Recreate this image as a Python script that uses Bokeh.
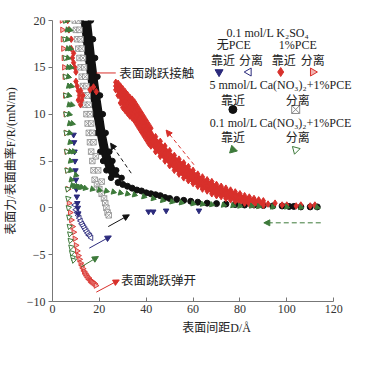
import math
from bokeh.plotting import figure
from bokeh.models import Range1d, Label, Arrow, NormalHead, FixedTicker
from bokeh.embed import file_html
from bokeh.resources import INLINE

# ---------------- data ----------------
# 5 mmol/L Ca(NO3)2 + 1%PCE, approach (black circles): dense band near the wall ...
blk_band_F = [20, 18, 16, 14, 12, 10, 8, 6, 5, 4, 3.2]
blk_band_left = [12.0, 12.9, 13.8, 14.8, 16.0, 17.4, 18.8, 20.4, 21.6, 23.0, 25.0]
blk_band_right = [16.4, 17.3, 18.2, 19.2, 20.3, 21.5, 22.7, 24.3, 25.6, 27.2, 29.5]
# ... and the single-row tail
blk_tail_D = [28, 30, 32, 34, 36, 38, 40, 42, 44, 46, 48, 50, 53, 56, 59, 62, 66, 70, 74, 78, 82,
              86, 90, 94, 98, 101, 103, 106, 110, 113]
blk_tail_F = [2.7, 2.5, 2.3, 2.1, 1.9, 1.8, 1.6, 1.5, 1.4, 1.3, 1.1, 1.0, 0.9, 0.8, 0.7, 0.6, 0.5,
              0.45, 0.4, 0.35, 0.3, 0.3, 0.25, 0.2, 0.2, 0.15, 0.15, 0.1, 0.1, 0.1]

# 5 mmol/L Ca(NO3)2 + 1%PCE, separation (grey boxed crosses)
gry_sep_D = [9.5, 10, 10.5, 11, 11.5, 12, 12.5, 13, 13.5, 14, 14.5, 15, 15.5, 16, 16.5, 17,
             17.5, 18, 19, 20, 21, 22, 22.5, 23, 23.5, 24,
             11, 11.5, 12, 12.5, 13, 13.5, 14, 14.5, 15, 15.5, 16, 16.5, 17, 17.5, 18.5, 19.5, 21]
gry_sep_F = [20, 19, 18, 17, 16, 15, 14, 13, 12, 11, 10, 9, 8, 7, 6, 5,
             4, 3, 2.5, 2, 1.5, 1, 0.5, 0, -0.5, -0.8,
             20, 19, 18, 17, 16, 15, 14, 13, 12, 11, 10, 9, 8, 7, 5.5, 4, 2.8]

# 0.1 mol/L K2SO4 + 1%PCE, approach (red diamonds): the broad band (upper / middle / lower edge)
red_band_D = [27, 28, 29, 30, 31, 32, 33, 34, 35, 36, 37, 38, 39, 40, 41, 42, 44, 46, 48, 50, 52,
              54, 56, 58, 60, 62, 64, 66, 68, 70, 72, 74, 76, 78, 80, 82, 84, 86, 88, 90]
red_band_up = [13.4, 13.3, 13.0, 12.7, 12.4, 12.1, 11.8, 11.6, 11.3, 10.9, 10.5, 10.1, 9.7, 9.3,
               8.9, 8.5, 7.6, 7.1, 6.6, 6.1, 5.6, 5.2, 4.8, 4.4, 4.0, 3.6, 3.3, 3.0, 2.8, 2.5,
               2.3, 2.1, 1.9, 1.7, 1.5, 1.3, 1.15, 1.0, 0.85, 0.75]
red_band_mid = [13.0, 12.6, 12.1, 11.7, 11.4, 11.1, 10.8, 10.6, 10.3, 9.9, 9.5, 9.1, 8.7, 8.3,
                7.9, 7.5, 6.8, 6.3, 5.8, 5.3, 4.8, 4.4, 4.0, 3.6, 3.2, 2.9, 2.6, 2.3, 2.1, 1.9,
                1.7, 1.55, 1.4, 1.25, 1.1, 1.0, 0.85, 0.7, 0.6, 0.5]
red_band_lo = [12.6, 12.0, 11.2, 10.7, 10.4, 10.1, 9.8, 9.6, 9.3, 8.9, 8.5, 8.1, 7.7, 7.3, 6.9,
               6.6, 6.0, 5.5, 5.0, 4.5, 4.0, 3.6, 3.2, 2.9, 2.6, 2.3, 2.0, 1.8, 1.5, 1.3, 1.2,
               1.0, 0.85, 0.7, 0.6, 0.5, 0.4, 0.35, 0.3, 0.25]
# ... after the jump into contact, and the stray far points
red_app_D = [6.5, 7, 8, 8, 8.5, 9, 9, 9.5, 10, 10, 10.5, 11, 11, 11.5, 12, 12, 12.5, 13,
             16, 17.5, 18.7, 92, 95, 98, 100, 104, 106, 110, 112]
red_app_F = [20, 19, 18, 17, 16, 16.5, 15.5, 15, 14.5, 13.5, 13, 12.5, 11.5, 12, 11, 12.5, 11.5,
             12, 12.6, 12.9, 12.4, 0.4, 0.5, 0.3, 0.3, 0.2, 0.3, 0.2, 0.3]

# 0.1 mol/L K2SO4 + 1%PCE, separation (red open triangles)
red_sep_D = [4, 4.2, 4.4, 4.6, 4.8, 5, 5.2, 5.4, 5.6, 5.8, 6, 6.3, 6.6, 7, 7.5, 8, 8.5, 9, 9.5, 10,
             10.5, 11, 11.5, 12, 12.5, 13, 13.5, 14, 14.5, 15, 15.5, 16, 16.5, 17, 17.5, 18, 18.5]
red_sep_F = [20, 19, 18, 17, 16, 15, 14, 12, 10, 8, 6, 4, 2, 0.5, -0.5, -1.3, -2, -2.6, -3.3, -4,
             -4.6, -5.1, -5.5, -5.9, -6.2, -6.5, -6.8, -7, -7.2, -7.4, -7.5, -7.7, -7.8, -7.9, -8.0,
             -8.1, -8.3]

# 0.1 mol/L K2SO4 without PCE, approach (navy inverted triangles)
blu_app_D = [9, 9.2, 9.4, 9.6, 9.8, 10, 10.2, 10.4, 10.6, 10.8, 11, 41, 43, 48.5, 62.5]
blu_app_F = [7.8, 7, 6, 5, 4, 3, 2, 1.2, 0.5, 0, -0.6, -0.4, -0.4, -0.3, -0.3]

# 0.1 mol/L K2SO4 without PCE, separation (navy open triangles)
blu_sep_D = [9.5, 10, 10.5, 11, 11.5, 12, 12.5, 13, 13.5, 14, 14.5, 15, 15.5, 16, 16.5]
blu_sep_F = [0.3, -0.2, -0.5, -0.8, -1.1, -1.4, -1.7, -1.9, -2.1, -2.3, -2.5, -2.7, -2.9, -3.0, -3.2]

# 0.1 mol/L Ca(NO3)2 + 1%PCE, approach (green triangles)
grn_app_D = [6.2, 6.3, 6.4, 6.5, 6.6, 6.7, 6.8, 6.9, 7.0, 7.1, 7.2, 7.3, 7.4, 7.5, 7.6, 7.7, 7.8,
             8, 8.5, 9.5, 10.5, 11.5, 12.5, 14, 17, 20, 23, 26, 29, 32, 35, 39, 43, 47, 51, 55, 60,
             64, 68, 73, 77, 80, 85, 88, 94, 100, 106, 113,
             7.5, 7.7, 7.9, 8.1, 8.3, 8.5, 9, 10]
grn_app_F = [20, 19, 18, 17, 16, 15, 14, 13, 12, 11, 10, 9, 8, 7, 6, 5, 4,
             3, 2.4, 2.3, 2.3, 2.2, 2.2, 2.1, 2, 1.9, 1.8, 1.7, 1.6, 1.5, 1.4, 1.2, 1.0, 0.8, 0.65,
             0.55, 0.45, 0.4, 0.35, 0.3, 0.25, 0.2, 0.2, 0.15, 0.1, 0.1, 0.05, 0.05,
             19, 17, 15, 13, 11, 9, 6, 3.5]

# 0.1 mol/L Ca(NO3)2 + 1%PCE, separation (green open triangles)
grn_sep_D = [5.2, 5.3, 5.4, 5.5, 5.6, 5.7, 5.8, 6.0, 6.2, 6.4, 6.6, 6.8, 7.0, 7.2, 7.4, 7.6, 7.9,
             8.2, 8.6, 9]
grn_sep_F = [20, 18, 16, 14, 12, 10, 8, 6, 4, 2, 1, 0, -1, -2, -2.8, -3.5, -4.2, -4.8, -5.3, -5.6]

x_ticks = [0, 20, 40, 60, 80, 100, 120]
y_ticks = [-10, -5, 0, 5, 10, 15, 20]

# ---------------- styling ----------------
RED = "#d8302b"
NAVY = "#2b2a7c"
GREEN = "#3d7a3a"
BLACK = "#111111"
GREY = "#8a8a8a"
SERIF = "Liberation Serif, Noto Sans CJK SC"
CJK = "Noto Sans CJK SC"

p = figure(frame_width=328, frame_height=281, output_backend="svg", toolbar_location=None,
           x_range=Range1d(0, 140), y_range=Range1d(-10, 20),
           min_border_left=44, min_border_right=4, min_border_top=20, min_border_bottom=43)
p.grid.visible = False
p.outline_line_color = None
p.background_fill_color = "white"

for ax in (p.xaxis[0], p.yaxis[0]):
    ax.axis_line_color = "#777777"
    ax.major_tick_line_color = "#777777"
    ax.minor_tick_line_color = None
    ax.major_label_text_font = "Liberation Serif"
    ax.major_label_text_font_size = "12px"
    ax.major_label_text_color = "#333333"
    ax.axis_label_text_font = SERIF
    ax.axis_label_text_font_size = "12px"
    ax.axis_label_text_font_style = "normal"
    ax.axis_label_text_color = "#222222"

p.xaxis.bounds = (0, 120)
p.xaxis.ticker = FixedTicker(ticks=x_ticks)
p.yaxis.ticker = FixedTicker(ticks=y_ticks)
p.yaxis.major_label_overrides = {t: (("\u2212" + str(abs(t))) if t < 0 else str(t)) for t in y_ticks}
p.xaxis.major_tick_in = 4
p.xaxis.major_tick_out = 0
p.yaxis.major_tick_in = 0
p.yaxis.major_tick_out = 4
p.xaxis.major_label_standoff = 3
p.yaxis.major_label_standoff = 3
p.xaxis.axis_label = "表面间距D/Å"
p.yaxis.axis_label = "表面力/表面曲率F/R/(mN/m)"
p.xaxis.axis_label_standoff = 5
p.yaxis.axis_label_standoff = 6

MS = 5.5
# black approach band
p.harea(y=blk_band_F, x1=blk_band_left, x2=blk_band_right, fill_color=BLACK, fill_alpha=1)
p.scatter(blk_band_left + blk_band_right, blk_band_F + blk_band_F, marker="circle", size=MS,
          fill_color=BLACK, line_color=BLACK)
p.scatter(blk_tail_D, blk_tail_F, marker="circle", size=MS + 0.5, fill_color=BLACK, line_color=BLACK)
# grey separation
p.scatter(gry_sep_D, gry_sep_F, marker="square_x", size=MS, fill_color="white", line_color=GREY,
          line_width=0.8)
# red approach band
p.varea(x=red_band_D, y1=red_band_lo, y2=red_band_up, fill_color=RED, fill_alpha=1)
for row in (red_band_up, red_band_mid, red_band_lo):
    p.scatter(red_band_D, row, marker="diamond", size=MS + 1, fill_color=RED, line_color=RED)
p.scatter(red_app_D, red_app_F, marker="diamond", size=MS + 1, fill_color=RED, line_color=RED)
# red separation
p.scatter(red_sep_D, red_sep_F, marker="triangle", angle=-math.pi / 2, size=MS, fill_color="#f2b3b0",
          line_color=RED, line_width=0.9)
# navy
p.scatter(blu_sep_D, blu_sep_F, marker="triangle", angle=math.pi / 2, size=MS, fill_color="white",
          line_color=NAVY, line_width=0.9)
p.scatter(blu_app_D, blu_app_F, marker="inverted_triangle", size=MS, fill_color=NAVY, line_color=NAVY)
# green
p.scatter(grn_sep_D, grn_sep_F, marker="triangle", angle=math.pi / 4, size=MS, fill_color="white",
          line_color=GREEN, line_width=1)
p.scatter(grn_app_D, grn_app_F, marker="triangle", angle=3 * math.pi / 4, size=MS, fill_color=GREEN,
          line_color=GREEN)

# ---------------- arrows ----------------
def arrow(x0, y0, x1, y1, color, dash="solid"):
    p.add_layout(Arrow(end=NormalHead(size=6, fill_color=color, line_color=color, line_width=1),
                       x_start=x0, y_start=y0, x_end=x1, y_end=y1,
                       line_color=color, line_width=1, line_dash=dash))

arrow(33.6, 3.7, 24.8, 6.9, BLACK, "4 3")
arrow(60.4, 4.6, 48.5, 8.3, RED, "4 3")
arrow(114.5, -1.6, 90.2, -1.6, GREEN, "5 3")
arrow(23.8, -2.0, 32.8, -0.75, BLACK)
arrow(15.7, -4.3, 25.1, -3.0, NAVY)
arrow(12.3, -6.3, 19.6, -5.2, GREEN)
arrow(18.7, -9.0, 28.5, -7.7, RED)
p.line([18.7, 27.0], [14.4, 14.4], line_color=RED, line_width=1)

def lab(x, y, text, size="12px", align="center", font=SERIF):
    p.add_layout(Label(x=x, y=y, text=text, text_align=align, text_baseline="middle",
                       text_font=font, text_font_size=size, text_color="#222222"))

lab(28.5, 14.4, "表面跳跃接触", "12.5px", "left", CJK)
lab(29.2, -7.6, "表面跳跃弹开", "12.5px", "left", CJK)

# ---------------- legend block ----------------
lab(91.9, 18.7, "0.1 mol/L K\u2082SO\u2084")
lab(77.4, 17.4, "无PCE")
lab(104.7, 17.4, "1%PCE")
for xx, tt in [(72.8, "靠近"), (84.7, "分离"), (98.7, "靠近"), (111.1, "分离")]:
    lab(xx, 15.8, tt, font=CJK)
lab(97.4, 13.1, "5 mmol/L Ca(NO\u2083)\u2082+1%PCE")
lab(77.0, 11.6, "靠近", font=CJK)
lab(104.7, 11.6, "分离", font=CJK)
lab(97.4, 9.1, "0.1 mol/L Ca(NO\u2083)\u2082+1%PCE")
lab(77.0, 7.6, "靠近", font=CJK)
lab(104.7, 7.6, "分离", font=CJK)

p.scatter([71.1], [14.5], marker="inverted_triangle", size=8, fill_color=NAVY, line_color=NAVY)
p.scatter([83.8], [14.5], marker="triangle", angle=math.pi / 2, size=8, fill_color="white", line_color=NAVY)
p.scatter([97.4], [14.5], marker="diamond", size=9, fill_color=RED, line_color=RED)
p.scatter([111.1], [14.5], marker="triangle", angle=-math.pi / 2, size=8, fill_color="#f2b3b0", line_color=RED)
p.scatter([77.0], [10.5], marker="circle", size=8, fill_color=BLACK, line_color=BLACK)
p.scatter([103.8], [10.5], marker="square_x", size=8, fill_color="white", line_color=GREY)
p.scatter([77.0], [6.2], marker="triangle", angle=3 * math.pi / 4, size=8, fill_color=GREEN, line_color=GREEN)
p.scatter([103.8], [6.2], marker="triangle", angle=math.pi / 4, size=8, fill_color="white", line_color=GREEN)

open("out.html", "w").write(file_html(p, INLINE))
